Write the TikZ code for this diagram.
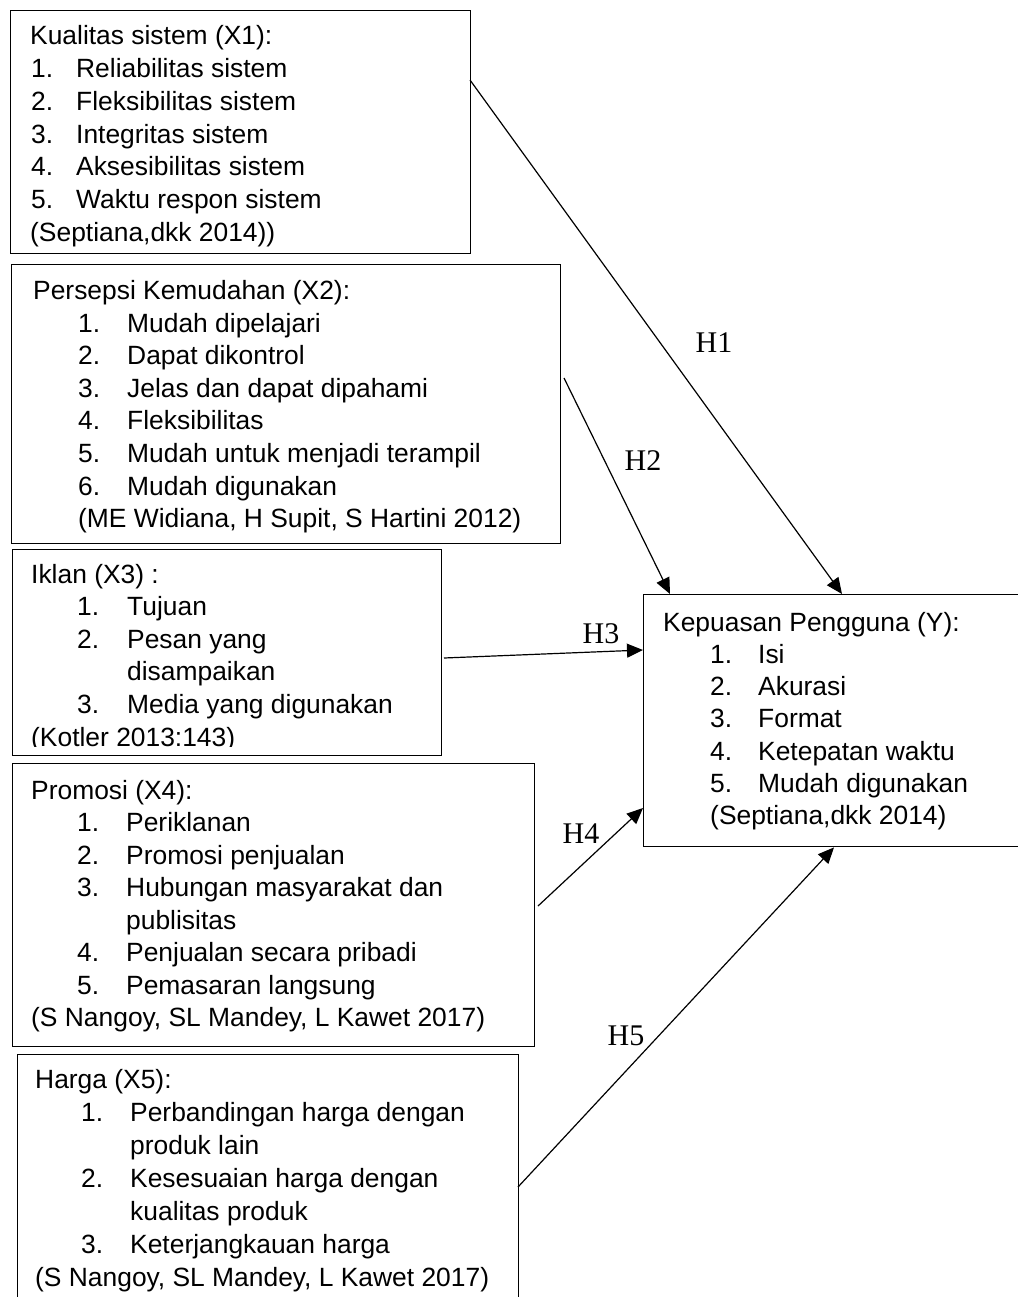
\documentclass[tikz,border=0pt]{standalone}
\usepackage{fontspec}
\setmainfont{Liberation Sans}
\newfontfamily\serifH{Liberation Serif}
\usetikzlibrary{arrows.meta}
\newlength\itind
\newlength\numw
\newcommand\TL[1]{\hbox{#1}}
\newcommand\TI[2]{\hbox{\hspace*{\itind}\makebox[\numw][l]{#1}#2}}
\newcommand\TC[1]{\hbox{\hspace*{\itind}#1}}
\newcommand\Block[2]{\vtop{\baselineskip=#1\lineskiplimit=-100pt\lineskip=0pt\relax #2}}
\begin{document}
\begin{tikzpicture}[x=1pt,y=-1pt,
  box/.style={draw, line width=1.4pt, inner sep=0pt, anchor=north west},
  txt/.style={anchor=base west, inner sep=0pt, font=\fontsize{26.4}{32}\selectfont},
  hlab/.style={font=\serifH\fontsize{30}{30}\selectfont, inner sep=0pt},
  arr/.style={line width=1.2pt, -{Triangle[length=16pt,width=14pt]}}]
\useasboundingbox (0,0) rectangle (1017,1297);
% boxes
\node[box, minimum width=460pt, minimum height=243pt] (x1) at (10,10) {};
\node[box, minimum width=549pt, minimum height=279pt] (x2) at (11,264) {};
\node[box, minimum width=429pt, minimum height=206pt] (x3) at (12,549) {};
\node[box, minimum width=522pt, minimum height=283pt] (x4) at (12,763) {};
\node[box, minimum width=501pt, minimum height=266pt] (x5) at (17,1054) {};
\node[box, minimum width=397pt, minimum height=252pt] (yb) at (643,594) {};
% texts
\node[txt] (x1t) at (30,45) {\setlength\itind{1pt}\setlength\numw{45pt}\Block{32.7pt}{%
\TL{Kualitas sistem (X1):}
\TI{1.}{Reliabilitas sistem}
\TI{2.}{Fleksibilitas sistem}
\TI{3.}{Integritas sistem}
\TI{4.}{Aksesibilitas sistem}
\TI{5.}{Waktu respon sistem}
\TL{(Septiana,dkk 2014))}}};
\node[txt] (x2t) at (33,299.5) {\setlength\itind{45pt}\setlength\numw{49pt}\Block{32.6pt}{%
\TL{Persepsi Kemudahan (X2):}
\TI{1.}{Mudah dipelajari}
\TI{2.}{Dapat dikontrol}
\TI{3.}{Jelas dan dapat dipahami}
\TI{4.}{Fleksibilitas}
\TI{5.}{Mudah untuk menjadi terampil}
\TI{6.}{Mudah digunakan}
\TC{(ME Widiana, H Supit, S Hartini 2012)}}};
\begin{scope}
\clip (12,549) rectangle (441,746);
\node[txt] (x3t) at (31,583) {\setlength\itind{46pt}\setlength\numw{50pt}\Block{32.6pt}{%
\TL{Iklan (X3) :}
\TI{1.}{Tujuan}
\TI{2.}{Pesan yang}
\TI{}{disampaikan}
\TI{3.}{Media yang digunakan}
\TL{(Kotler 2013:143)}}};
\end{scope}
\node[txt] (x4t) at (31,799) {\setlength\itind{46pt}\setlength\numw{49pt}\Block{32.55pt}{%
\TL{Promosi (X4):}
\TI{1.}{Periklanan}
\TI{2.}{Promosi penjualan}
\TI{3.}{Hubungan masyarakat dan}
\TI{}{publisitas}
\TI{4.}{Penjualan secara pribadi}
\TI{5.}{Pemasaran langsung}
\TL{(S Nangoy, SL Mandey, L Kawet 2017)}}};
\node[txt] (x5t) at (35,1088) {\setlength\itind{46pt}\setlength\numw{49pt}\Block{33pt}{%
\TL{Harga (X5):}
\TI{1.}{Perbandingan harga dengan}
\TI{}{produk lain}
\TI{2.}{Kesesuaian harga dengan}
\TI{}{kualitas produk}
\TI{3.}{Keterjangkauan harga}
\TL{(S Nangoy, SL Mandey, L Kawet 2017)}}};
\node[txt] (yt) at (663,631) {\setlength\itind{47pt}\setlength\numw{48pt}\Block{32.3pt}{%
\TL{Kepuasan Pengguna (Y):}
\TI{1.}{Isi}
\TI{2.}{Akurasi}
\TI{3.}{Format}
\TI{4.}{Ketepatan waktu}
\TI{5.}{Mudah digunakan}
\TC{(Septiana,dkk 2014)}}};
% connector start points
\coordinate (s1) at (470,80);
\coordinate (s2) at (564,378);
\coordinate (s3) at (444,658);
\coordinate (s4) at (538,906);
\coordinate (s5) at (518,1187);
% arrows
\draw[arr] (s1) -- (yb.north -| 842,0);
\draw[arr] (s2) -- (yb.north -| 670,0);
\draw[arr] (s3) -- (yb.west |- 0,650);
\draw[arr] (s4) -- (yb.west |- 0,808);
\draw[arr] (s5) -- (yb.south -| 834,0);
% labels
\node[hlab] (h1) at (714,343) {H1};
\node[hlab] (h2) at (643,461) {H2};
\node[hlab] (h3) at (601,634) {H3};
\node[hlab] (h4) at (581,834) {H4};
\node[hlab] (h5) at (626,1036) {H5};
\end{tikzpicture}
\end{document}
